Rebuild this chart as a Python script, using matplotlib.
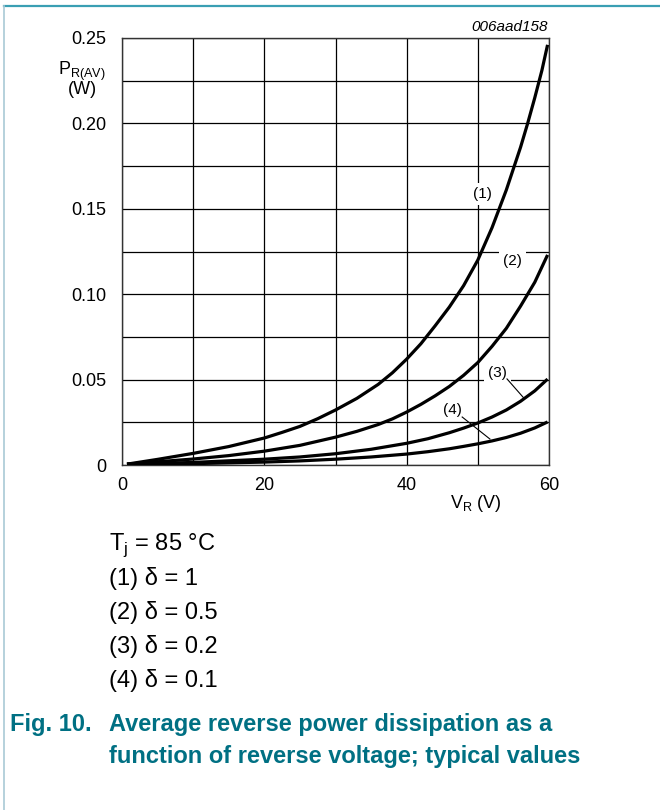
import matplotlib.pyplot as plt
from matplotlib.lines import Line2D

plt.rcParams['font.family'] = ['Liberation Sans', 'DejaVu Sans']

# curves: P_R(AV) (W) vs V_R (V)
v1 = [0.7, 5, 10, 15, 20, 22.5, 25, 27.5, 30, 33, 36, 38, 40, 42, 44, 46, 48, 50, 52, 54, 56, 57,
      58, 59, 59.8]
p1 = [0.0005, 0.0033, 0.0068, 0.0108, 0.0158, 0.0191, 0.0226, 0.0271, 0.0322, 0.039, 0.0472,
      0.054, 0.062, 0.071, 0.0815, 0.0925, 0.105, 0.120, 0.139, 0.161, 0.186, 0.200, 0.215,
      0.231, 0.246]
v2 = [0.7, 10, 15, 20, 25, 30, 33, 36, 38, 40, 42, 44, 46, 48, 50, 52, 54, 56, 58, 59.8]
p2 = [0.0005, 0.0035, 0.0055, 0.0081, 0.0115, 0.0163, 0.0197, 0.0237, 0.027, 0.031, 0.0355,
      0.0405, 0.046, 0.0525, 0.060, 0.0695, 0.080, 0.093, 0.107, 0.123]
v3 = [0.7, 10, 20, 25, 30, 35, 40, 43, 46, 48, 50, 52, 54, 56, 58, 59.8]
p3 = [0.0005, 0.0015, 0.0034, 0.0047, 0.0066, 0.0092, 0.0127, 0.0154, 0.0189, 0.0216, 0.0246,
      0.0281, 0.0322, 0.0373, 0.0434, 0.0503]
v4 = [0.7, 10, 20, 25, 30, 35, 40, 43, 46, 48, 50, 52, 54, 56, 58, 59.8]
p4 = [0.0004, 0.0008, 0.0017, 0.0024, 0.0034, 0.0047, 0.0064, 0.0078, 0.0095, 0.0109, 0.0124,
      0.0141, 0.0161, 0.0186, 0.0217, 0.0252]

x_ticks = [0, 10, 20, 30, 40, 50, 60]
x_labels = ['0', '', '20', '', '40', '', '60']
y_ticks = [0, 0.025, 0.05, 0.075, 0.10, 0.125, 0.15, 0.175, 0.20, 0.225, 0.25]
y_labels = ['0', '', '0.05', '', '0.10', '', '0.15', '', '0.20', '', '0.25']

legend_lines = ['T$_\\mathregular{j}$ = 85 °C', '(1) δ = 1', '(2) δ = 0.5', '(3) δ = 0.2', '(4) δ = 0.1']

fig = plt.figure(figsize=(6.6, 8.1), dpi=100)
ax = fig.add_axes([122/660, 1-465/810, 427/660, 427/810])

for v, p in [(v1, p1), (v2, p2), (v3, p3), (v4, p4)]:
    ax.plot(v, p, color='black', lw=2.3, solid_capstyle='butt', solid_joinstyle='round', zorder=3)

ax.set_xlim(0, 60)
ax.set_ylim(0, 0.25)
ax.set_xticks(x_ticks)
ax.set_xticklabels(x_labels)
ax.set_yticks(y_ticks)
ax.set_yticklabels(y_labels)
ax.tick_params(length=0, labelsize=13, pad=9)
ax.tick_params(axis='y', pad=11)
ax.grid(True, color='black', lw=0.9)
for s in ax.spines.values():
    s.set_linewidth(1.0)
    s.set_color('#333333')

# curve labels with white boxes
box = dict(facecolor='white', edgecolor='none', pad=3)
ax.text(50.6, 0.1587, '(1)', fontsize=11, ha='center', va='center', bbox=box, zorder=2)
ax.text(54.9, 0.1194, '(2)', fontsize=11, ha='center', va='center', bbox=box, zorder=2)
ax.text(52.8, 0.0539, '(3)', fontsize=11, ha='center', va='center', bbox=box, zorder=2)
ax.text(46.4, 0.0322, '(4)', fontsize=11, ha='center', va='center', bbox=box, zorder=2)
ax.plot([54.1, 56.4], [0.0504, 0.0395], color='black', lw=0.8, zorder=3)
ax.plot([47.8, 51.7], [0.0281, 0.0152], color='black', lw=0.8, zorder=3)

# axis titles
fig.text(106/660, 1-71/810, 'P$_\\mathregular{R(AV)}$', fontsize=13, ha='right', va='center')
fig.text(82/660, 1-90/810, '(W)', fontsize=13, ha='center', va='center')
fig.text(476/660, 1-503/810, 'V$_\\mathregular{R}$ (V)', fontsize=13, ha='center', va='center')
fig.text(548/660, 1-27/810, '006aad158', fontsize=11, style='italic', ha='right', va='center')

# conditions
for i, s in enumerate(legend_lines):
    fig.text(109/660, 1-(545 + i*34)/810, s, fontsize=17, ha='left', va='center')

# caption
teal = '#007083'
fig.text(10/660, 1-725/810, 'Fig. 10.', fontsize=17, weight='bold', color=teal, va='center')
fig.text(109/660, 1-725/810, 'Average reverse power dissipation as a', fontsize=17,
         weight='bold', color=teal, va='center')
fig.text(109/660, 1-756/810, 'function of reverse voltage; typical values', fontsize=17,
         weight='bold', color=teal, va='center')

# page frame lines
fig.add_artist(Line2D([4/660, 1], [1-6/810, 1-6/810], color='#3a9fb3', lw=1.6))
fig.add_artist(Line2D([4/660, 4/660], [0, 1-6/810], color='#a9c9d6', lw=1.2))

fig.savefig('out.png', dpi=100)
